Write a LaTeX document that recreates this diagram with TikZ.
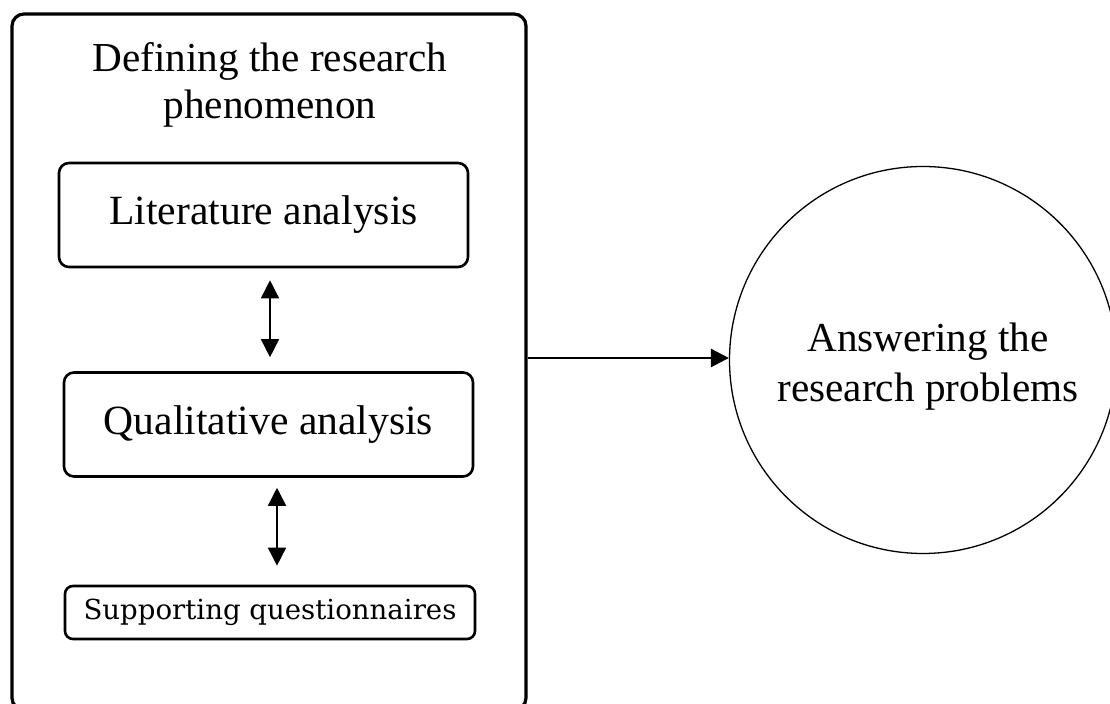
\documentclass[tikz,border=0pt]{standalone}
\usepackage{fontspec}
\setmainfont{Liberation Serif}
\newfontfamily\slabfont{DejaVu Serif}
\usetikzlibrary{arrows.meta}

\begin{document}
\begin{tikzpicture}[x=0.5pt,y=-0.5pt,
  framebox/.style={draw, line width=1.6pt, rounded corners=6pt,
    minimum width=257pt, minimum height=348pt, inner sep=0pt},
  stagebox/.style={draw, line width=1.3pt, rounded corners=5pt, inner sep=0pt,
    minimum width=204.5pt, minimum height=52pt,
    font=\fontsize{20.8}{24}\selectfont},
  smallbox/.style={draw, line width=1.3pt, rounded corners=4pt, inner sep=0pt,
    minimum width=205pt, minimum height=26.5pt,
    font=\slabfont\fontsize{13.8}{16}\selectfont},
  goal/.style={draw, circle, line width=0.65pt, inner sep=0pt,
    minimum size=193.5pt},
  bigtext/.style={align=center, anchor=base, inner sep=0pt},
  twoway/.style={line width=0.8pt, {Triangle[length=9pt,width=9pt]}-{Triangle[length=9pt,width=9pt]}},
  oneway/.style={line width=1.4pt, -{Triangle[length=9pt,width=9pt]}}
]
\useasboundingbox (0,0) rectangle (1110,704);
\clip (0,0) rectangle (1110,704);

% left frame holding the three stages
\node[framebox] (frame) at (269,362) {};
\node[bigtext, font=\fontsize{20.6}{23.5}\selectfont] (title) at (270,119)
  {Defining the research\\phenomenon};

\node[stagebox] (lit)  at (263.5,215)   {Literature analysis};
\node[stagebox] (qual) at (268.5,424.5) {Qualitative analysis};
\node[smallbox] (supp) at (270,612.5)   {Supporting questionnaires};

% result
\node[goal] (ans) at (923,360) {};
\node[bigtext, font=\fontsize{20.6}{25}\selectfont] (anstext) at (928,402)
  {Answering the\\research problems};

% connectors
\draw[twoway] ([xshift=3.25pt,yshift=-6pt]lit.south) -- ([xshift=0.75pt,yshift=7pt]qual.north);
\draw[twoway] ([xshift=4.25pt,yshift=-5pt]qual.south) -- ([xshift=3.5pt,yshift=9.5pt]supp.north);
\draw[oneway] ([yshift=2pt]frame.east) -- ([yshift=2pt]frame.east -| ans.west);
\end{tikzpicture}
\end{document}
